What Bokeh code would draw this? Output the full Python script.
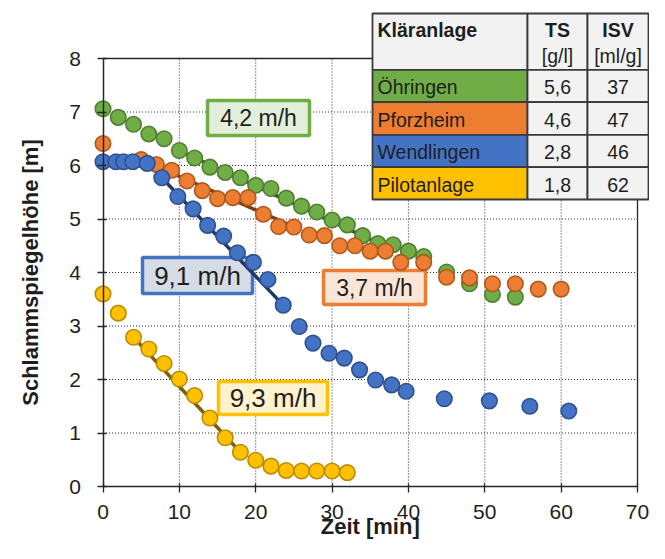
import numpy as np
from bokeh.plotting import figure
from bokeh.models import Range1d, FixedTicker
from bokeh.core.properties import value
from bokeh.embed import file_html
from bokeh.resources import INLINE

# ---------------- data ----------------
t_oehringen = [0, 2, 4, 6, 8, 10, 12, 14, 16, 18, 20, 22, 24, 26, 28, 30, 32, 34, 36, 38, 40, 42, 45, 48, 51, 54]
h_oehringen = [7.06, 6.90, 6.77, 6.59, 6.50, 6.28, 6.14, 5.97, 5.87, 5.77, 5.63, 5.57, 5.39, 5.24, 5.13, 4.98,
               4.89, 4.69, 4.54, 4.52, 4.40, 4.30, 4.01, 3.79, 3.59, 3.54]

t_pforzheim = [0, 5, 7, 9, 11, 13, 15, 17, 19, 21, 23, 25, 27, 29, 31, 33, 35, 37, 39, 42, 45, 48, 51, 54, 57, 60]
h_pforzheim = [6.41, 6.11, 6.02, 5.91, 5.71, 5.53, 5.38, 5.40, 5.40, 5.09, 4.86, 4.85, 4.70, 4.69, 4.50, 4.50,
               4.40, 4.40, 4.19, 4.19, 3.91, 3.90, 3.79, 3.79, 3.69, 3.69]

t_wendlingen = [0, 1.7, 2.7, 3.9, 5.8, 7.7, 9.8, 11.8, 13.7, 15.8, 17.6, 19.7, 21.6, 23.6, 25.7, 27.5, 29.6,
                31.6, 33.6, 35.7, 37.8, 39.7, 44.7, 50.6, 55.9, 61.0]
h_wendlingen = [6.07, 6.07, 6.07, 6.07, 6.04, 5.77, 5.42, 5.19, 4.88, 4.68, 4.37, 4.19, 3.87, 3.39, 2.99, 2.68,
                2.49, 2.40, 2.18, 1.99, 1.90, 1.78, 1.64, 1.60, 1.50, 1.41]

t_pilot = [0, 2, 4, 6, 8, 10, 12, 14, 16, 18, 20, 22, 24, 26, 28, 30, 32]
h_pilot = [3.60, 3.24, 2.79, 2.57, 2.30, 2.01, 1.70, 1.28, 0.91, 0.64, 0.49, 0.38, 0.30, 0.29, 0.29, 0.29, 0.26]

# fitted settling lines (start / end)
fit_oehringen_t = [10, 36.2]
fit_oehringen_h = [6.28, 4.54]
fit_pforzheim_t = [5, 25.1]
fit_pforzheim_h = [6.11, 4.85]
fit_wendlingen_t = [7.7, 23.6]
fit_wendlingen_h = [5.77, 3.39]
fit_pilot_t = [4, 18]
fit_pilot_h = [2.79, 0.64]

speed_labels = ["4,2 m/h", "3,7 m/h", "9,1 m/h", "9,3 m/h"]

plants = ["Öhringen", "Pforzheim", "Wendlingen", "Pilotanlage"]
ts_values = ["5,6", "4,6", "2,8", "1,8"]
isv_values = ["37", "47", "46", "62"]
header = ["Kläranlage", "TS", "[g/l]", "ISV", "[ml/g]"]

x_ticks = [0, 10, 20, 30, 40, 50, 60, 70]
y_ticks = [0, 1, 2, 3, 4, 5, 6, 7, 8]

# ---------------- styling ----------------
FONT = "Liberation Sans"
TXT = "#1e1e1e"
col_green, col_orange, col_blue, col_gold = "#70ad47", "#ed7d31", "#4472c4", "#ffc000"
edge_green, edge_orange, edge_blue, edge_gold = "#507e32", "#ae5a21", "#2f528f", "#bc8c00"
line_green, line_orange, line_blue, line_gold = "#385723", "#843c0c", "#203864", "#7f6000"

W, H = 649, 543
X0, Y0 = 102.5, 486.0          # canvas px of data origin
SX = (637.0 - X0) / 70.0       # px per minute
SY = (486.0 - 58.0) / 8.0      # px per metre


def dx(px):
    return (px - X0) / SX


def dy(py):
    return (Y0 - py) / SY


p = figure(width=W, height=H, output_backend="svg", toolbar_location=None,
           x_range=Range1d(dx(0), dx(W)), y_range=Range1d(dy(H), dy(0)),
           min_border=0, min_border_left=0, min_border_right=0, min_border_top=0, min_border_bottom=0)
p.outline_line_color = None
p.background_fill_color = "white"
p.border_fill_color = "white"
p.xgrid.visible = False
p.ygrid.visible = False

for ax, ticks, bnd in ((p.xaxis[0], x_ticks, (0, 70)), (p.yaxis[0], y_ticks, (0, 8))):
    ax.fixed_location = 0
    ax.bounds = bnd
    ax.ticker = FixedTicker(ticks=ticks)
    ax.minor_tick_line_color = None
    ax.axis_line_color = "#262626"
    ax.axis_line_width = 1.5
    ax.major_tick_line_color = "#262626"
    ax.major_tick_line_width = 1.3
    ax.major_tick_in = 3
    ax.major_tick_out = 6
    ax.major_label_text_font = FONT
    ax.major_label_text_font_size = "21px"
    ax.major_label_text_color = TXT
p.xaxis[0].major_label_standoff = 12
p.yaxis[0].major_label_standoff = 16

# grid lines (dotted) and plot-area border
gx = x_ticks[1:-1]
p.segment(x0=gx, y0=[y_ticks[0]] * len(gx), x1=gx, y1=[y_ticks[-1]] * len(gx),
          line_color="#2a2a2a", line_width=1, line_dash="1 2")
gy = y_ticks[1:-1]
p.segment(x0=[x_ticks[0]] * len(gy), y0=gy, x1=[x_ticks[-1]] * len(gy), y1=gy,
          line_color="#2a2a2a", line_width=1, line_dash="1 2")
p.segment(x0=[x_ticks[0], x_ticks[-1]], y0=[y_ticks[-1], y_ticks[0]],
          x1=[x_ticks[-1], x_ticks[-1]], y1=[y_ticks[-1], y_ticks[-1]],
          line_color="#262626", line_width=1.3)

# speed label boxes (canvas px): left, right, top, bottom
boxes = [(207, 309, 100, 135), (323, 425, 270, 304), (142, 252, 257, 293), (218, 327, 381, 414)]
box_fill = ["#e2efda", "#fbe5d6", "#d6dce5", "#fff2cc"]
box_line = [col_green, col_orange, col_blue, col_gold]
box_font = ["23px", "23px", "26px", "26px"]
for (l, r, t, b), fc, lc, txt, fs in zip(boxes, box_fill, box_line, speed_labels, box_font):
    p.quad(left=[dx(l)], right=[dx(r)], top=[dy(t)], bottom=[dy(b)],
           fill_color=fc, line_color=lc, line_width=3.5)
    p.text(x=[dx((l + r) / 2)], y=[dy((t + b) / 2)], text=[txt], text_font=value(FONT),
           text_font_size=fs, text_color=TXT, text_align="center", text_baseline="middle")

# fit lines
for ft, fh, lc in ((fit_oehringen_t, fit_oehringen_h, line_green), (fit_pforzheim_t, fit_pforzheim_h, line_orange),
                   (fit_wendlingen_t, fit_wendlingen_h, line_blue), (fit_pilot_t, fit_pilot_h, line_gold)):
    p.line(ft, fh, line_color=lc, line_width=3.5)

# measurements
for tt, hh, fc, lc in ((t_oehringen, h_oehringen, col_green, edge_green),
                       (t_pforzheim, h_pforzheim, col_orange, edge_orange),
                       (t_wendlingen, h_wendlingen, col_blue, edge_blue),
                       (t_pilot, h_pilot, col_gold, edge_gold)):
    p.scatter(tt, hh, size=15.5, fill_color=fc, line_color=lc, line_width=1.6)

# axis titles
p.text(x=[35], y=[dy(526)], text=["Zeit [min]"], text_font=value(FONT), text_font_size="22px",
       text_font_style="bold", text_color=TXT, text_align="center", text_baseline="middle")
p.text(x=[dx(30)], y=[4], text=["Schlammspiegelhöhe [m]"], text_font=value(FONT), text_font_size="22px",
       text_font_style="bold", text_color=TXT, text_align="center", text_baseline="middle", angle=np.pi / 2)

# table (canvas px)
cols = [372, 527, 587, 648]
rows = [13, 69.3, 101.7, 134.3, 166.7, 199]
grey = "#f2f2f2"
tab_line = "#3a3a3a"
first_col_fill = [col_green, col_orange, col_blue, col_gold]
q_l, q_r, q_t, q_b, q_f = [], [], [], [], []
for ri in range(5):
    for ci in range(3):
        q_l.append(dx(cols[ci])); q_r.append(dx(cols[ci + 1]))
        q_t.append(dy(rows[ri])); q_b.append(dy(rows[ri + 1]))
        q_f.append(first_col_fill[ri - 1] if (ri > 0 and ci == 0) else grey)
p.quad(left=q_l, right=q_r, top=q_t, bottom=q_b, fill_color=q_f, line_color=tab_line, line_width=1.8)

c2 = (cols[1] + cols[2]) / 2
c3 = (cols[2] + cols[3]) / 2
p.text(x=[dx(cols[0] + 5), dx(c2), dx(c3)], y=[dy(29.5)] * 3, text=[header[0], header[1], header[3]],
       text_font=value(FONT), text_font_size="19.5px", text_font_style="bold", text_color=TXT,
       text_align=["left", "center", "center"], text_baseline="middle")
p.text(x=[dx(c2), dx(c3)], y=[dy(55)] * 2, text=[header[2], header[4]],
       text_font=value(FONT), text_font_size="19.5px", text_color=TXT,
       text_align="center", text_baseline="middle")
mid = [dy(rows[i + 1] + 17.5) for i in range(4)]
p.text(x=[dx(cols[0] + 5)] * 4, y=mid, text=plants, text_font=value(FONT), text_font_size="19.5px",
       text_color=TXT, text_align="left", text_baseline="middle")
p.text(x=[dx(c2)] * 4, y=mid, text=ts_values, text_font=value(FONT), text_font_size="19.5px",
       text_color=TXT, text_align="center", text_baseline="middle")
p.text(x=[dx(c3)] * 4, y=mid, text=isv_values, text_font=value(FONT), text_font_size="19.5px",
       text_color=TXT, text_align="center", text_baseline="middle")

open("out.html", "w").write(file_html(p, INLINE))
